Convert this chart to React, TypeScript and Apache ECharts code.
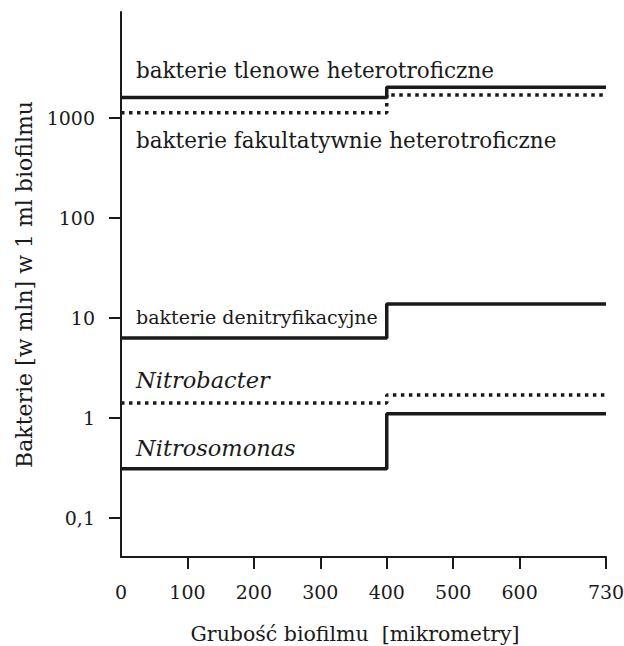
import React, { useEffect, useRef } from "react";
import * as echarts from "echarts";

const xStepAt = 400;
const xEnd = 730;
const xTickValues = [0, 100, 200, 300, 400, 500, 600, 730];
const yTickValues = [0.1, 1, 10, 100, 1000];
const yTickLabels = ["0,1", "1", "10", "100", "1000"];

const tlenowe = [1600, 2030];
const fakultatywne = [1130, 1700];
const denitryfikacyjne = [6.3, 13.8];
const nitrobacter = [1.41, 1.7];
const nitrosomonas = [0.31, 1.1];

const FONT = "'DejaVu Serif', serif";
const INK = "#1a1a1a";

function stepData(v: number[]) {
  return [
    [0, Math.log10(v[0])],
    [xStepAt, Math.log10(v[1])],
    [xEnd, Math.log10(v[1])],
  ];
}

export default function App() {
  const ref = useRef<HTMLDivElement>(null);
  useEffect(() => {
    if (!ref.current) return;
    const chart = echarts.init(ref.current, undefined, { renderer: "svg" });
    const solid = { color: INK, width: 3.5, type: "solid" as const, cap: "butt" as const };
    const dotted = { color: INK, width: 3.5, type: [3.5, 4.5], cap: "butt" as const };
    const mk = (name: string, v: number[], ls: any) => ({
      name,
      type: "line",
      step: "end",
      data: stepData(v),
      showSymbol: false,
      symbol: "none",
      lineStyle: ls,
      z: 3,
    });
    const txt = (text: string, x: number, y: number, size: number, italic = false) => ({
      type: "text",
      x,
      y,
      style: {
        text,
        font: `${italic ? "italic " : ""}${size}px ${FONT}`,
        fill: INK,
        textVerticalAlign: "middle",
        textAlign: "left",
      },
    });
    chart.setOption({
      animation: false,
      backgroundColor: "#ffffff",
      grid: {
        left: 121,
        top: 12,
        right: 18,
        bottom: 646 - 557,
        containLabel: false,
        outerBoundsMode: "none",
      },
      xAxis: {
        type: "value",
        min: 0,
        max: xEnd,
        name: "Grubość biofilmu  [mikrometry]",
        nameLocation: "middle",
        nameGap: 66,
        nameTextStyle: { fontFamily: FONT, fontSize: 20.5, color: INK, padding: [0, 17, 0, 0] },
        splitLine: { show: false },
        axisLine: { show: true, onZero: false, lineStyle: { color: INK, width: 2 } },
        axisTick: {
          show: true,
          length: 12,
          lineStyle: { color: INK, width: 2 },
          customValues: xTickValues.filter((v) => v !== 0),
        },
        axisLabel: {
          margin: 25,
          fontFamily: FONT,
          fontSize: 19,
          color: INK,
          customValues: xTickValues,
          showMinLabel: true,
          showMaxLabel: true,
        },
      },
      yAxis: {
        type: "value",
        min: -1.39,
        max: 4.06,
        name: "Bakterie [w mln] w 1 ml biofilmu",
        nameLocation: "middle",
        nameGap: 85,
        nameRotate: 90,
        nameTextStyle: { fontFamily: FONT, fontSize: 22, color: INK },
        splitLine: { show: false },
        axisLine: { show: true, onZero: false, lineStyle: { color: INK, width: 2 } },
        axisTick: {
          show: true,
          length: 12,
          lineStyle: { color: INK, width: 2 },
          customValues: yTickValues.map((v) => Math.log10(v)),
        },
        axisLabel: {
          margin: 26,
          fontFamily: FONT,
          fontSize: 19,
          color: INK,
          customValues: yTickValues.map((v) => Math.log10(v)),
          formatter: (val: number) => {
            const i = yTickValues.findIndex((t) => Math.abs(Math.log10(t) - val) < 1e-6);
            return i >= 0 ? yTickLabels[i] : "";
          },
        },
      },
      series: [
        mk("bakterie tlenowe heterotroficzne", tlenowe, solid),
        mk("bakterie fakultatywnie heterotroficzne", fakultatywne, dotted),
        mk("bakterie denitryfikacyjne", denitryfikacyjne, solid),
        mk("Nitrobacter", nitrobacter, dotted),
        mk("Nitrosomonas", nitrosomonas, solid),
      ],
      graphic: [
        txt("bakterie tlenowe heterotroficzne", 136, 70, 21.5),
        txt("bakterie fakultatywnie heterotroficzne", 136, 140, 21.5),
        txt("bakterie denitryfikacyjne", 136, 317, 19),
        txt("Nitrobacter", 136, 380, 22.5, true),
        txt("Nitrosomonas", 136, 448, 22.5, true),
      ],
    });
    return () => chart.dispose();
  }, []);
  return <div ref={ref} style={{ width: 624, height: 646, position: "absolute", left: 0, top: 0 }} />;
}
